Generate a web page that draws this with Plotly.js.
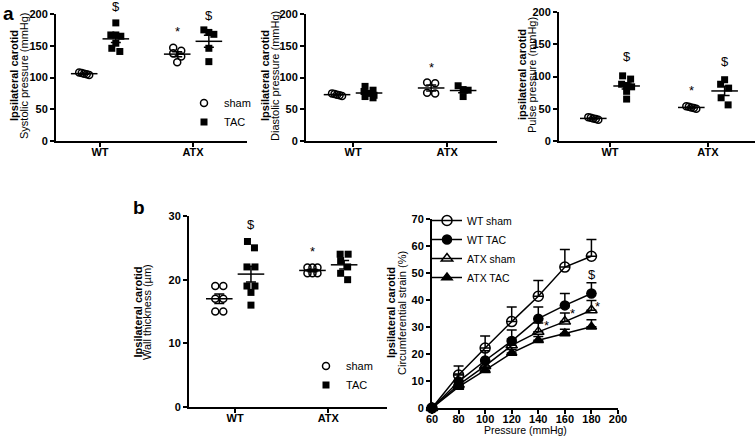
<!DOCTYPE html>
<html><head><meta charset="utf-8">
<script src="https://cdn.plot.ly/plotly-3.0.1.min.js"></script>
<style>body{margin:0;background:#fff;} #chart{width:756px;height:437px;}</style>
</head><body><div id="chart"></div>
<script>
// ---------- data ----------
const groups = ['WT', 'ATX'];
// panel a: systolic pressure (mmHg)
const systolicShamWT = [104, 106, 107, 108, 105];
const systolicShamATX = [147, 142, 138, 133, 124];
const systolicTacWT = [186, 167, 167, 165, 154, 146, 141];
const systolicTacATX = [175, 171, 168, 146, 125];
// diastolic pressure (mmHg)
const diastolicShamWT = [71, 73, 74, 72, 75];
const diastolicShamATX = [92, 91, 76, 75];
const diastolicTacWT = [86, 80, 78, 75, 72, 70, 68];
const diastolicTacATX = [87, 81, 80, 70];
// pulse pressure (mmHg)
const pulseShamWT = [33, 35, 37, 34, 36];
const pulseShamATX = [54, 52, 51, 53, 50];
const pulseTacWT = [101, 96, 88, 86, 84, 77, 65];
const pulseTacATX = [95, 88, 82, 67, 56];
// panel b: wall thickness (um)
const wallShamWT = [19, 19, 17, 17, 15, 15];
const wallShamATX = [21.9, 21.9, 21.9, 21.0, 21.0, 21.0];
const wallTacWT = [26, 25, 22, 22, 19, 19, 18, 16];
const wallTacATX = [24, 24, 23, 22, 21, 20];
// circumferential strain (%) vs pressure
const pressure = [60, 80, 100, 120, 140, 160, 180];
const strainWTsham = [0, 12.2, 22.2, 32, 41.4, 52.2, 56.2];
const strainWTshamErr = [0, 3.4, 4.5, 5.4, 5.8, 6.5, 6.2];
const strainWTtac = [0, 9.8, 17.6, 24.8, 33.1, 38.0, 42.4];
const strainWTtacErr = [0, 2.8, 3.6, 4.1, 4.3, 4.4, 4.0];
const strainATXsham = [0, 8.6, 15.6, 23.2, 28.2, 32.0, 36.2];
const strainATXshamErr = [0, 1.4, 1.8, 2.4, 3.3, 3.2, 3.6];
const strainATXtac = [0, 7.8, 14.0, 20.4, 25.1, 27.6, 30.1];
const strainATXtacErr = [0, 0.8, 1.0, 1.3, 1.4, 1.6, 2.6];
const strainNames = ['WT sham', 'WT TAC', 'ATX sham', 'ATX TAC'];

// ---------- helpers ----------
const FONT = 'Liberation Sans, Arial, sans-serif';
const W = 756, H = 437;
const GROUP_OFFSET = 0.17;
const DOLLAR = '&#36;';

function mean(a) { return a.reduce((s, v) => s + v, 0) / a.length; }
function sem(a) {
  const m = mean(a);
  const v = a.reduce((s, x) => s + (x - m) * (x - m), 0) / (a.length - 1);
  return Math.sqrt(v) / Math.sqrt(a.length);
}
// Prism-like scatter: near-equal values share a row (spread symmetrically, capped width);
// lone points that would touch the previous lone point are nudged sideways.
function spread(vals, pxX, pxY) {
  const rowTol = 4.5, pairGap = 8, maxSpan = 10, diam = 7.5;
  const order = vals.map((v, i) => i).sort((a, b) => vals[b] - vals[a]);
  const rows = [];
  order.forEach(i => {
    const r = rows[rows.length - 1];
    if (r && Math.abs(vals[r[0]] - vals[i]) * pxY <= rowTol) r.push(i); else rows.push([i]);
  });
  const offPx = new Array(vals.length).fill(0);
  rows.forEach((r, ri) => {
    if (r.length > 1) {
      const gap = Math.min(pairGap, maxSpan / (r.length - 1));
      r.forEach((idx, j) => { offPx[idx] = (j - (r.length - 1) / 2) * gap; });
    } else if (ri > 0 && rows[ri - 1].length === 1) {
      const p = rows[ri - 1][0];
      if (Math.abs(vals[p] - vals[r[0]]) * pxY < diam) {
        if (offPx[p] === 0) offPx[p] = -3.5;
        offPx[r[0]] = -offPx[p];
      }
    }
  });
  return offPx.map(o => o / pxX);
}

const layout = {
  width: W, height: H,
  margin: {l: 0, r: 0, t: 0, b: 0},
  paper_bgcolor: '#fff', plot_bgcolor: 'rgba(0,0,0,0)',
  font: {family: FONT, color: '#000', size: 11},
  showlegend: true,
  annotations: [], shapes: []
};
const traces = [];

function axisCommon(isX) {
  const a = {
    showline: true, linecolor: '#000', linewidth: 2,
    ticks: 'outside', ticklen: 4, tickwidth: 2, tickcolor: '#000',
    showgrid: false, zeroline: false, fixedrange: true,
    tickfont: {family: FONT, size: 11, color: '#000', weight: 'bold'}
  };
  if (isX) a.ticklabelstandoff = -4;
  return a;
}
function yTitle(boldLine, normalLine, xBold, xNormal, yCenterPx) {
  layout.annotations.push({xref: 'paper', yref: 'paper', x: xBold / W, y: 1 - yCenterPx / H,
    xanchor: 'center', yanchor: 'middle', textangle: -90, showarrow: false,
    text: '<b>' + boldLine + '</b>', font: {family: FONT, size: 11, color: '#000'}});
  layout.annotations.push({xref: 'paper', yref: 'paper', x: xNormal / W, y: 1 - yCenterPx / H,
    xanchor: 'center', yanchor: 'middle', textangle: -90, showarrow: false,
    text: normalLine, font: {family: FONT, size: 11, color: '#000'}});
}

function dotPanel(idx, xDom, yDom, xRange, yMax, yStep, sets, legendName, marks) {
  const xa = 'xaxis' + (idx === 1 ? '' : idx), ya = 'yaxis' + (idx === 1 ? '' : idx);
  const xr = 'x' + (idx === 1 ? '' : idx), yr = 'y' + (idx === 1 ? '' : idx);
  layout[xa] = Object.assign(axisCommon(true), {
    domain: xDom, range: xRange, anchor: yr,
    tickmode: 'array', tickvals: [1, 2], ticktext: groups
  });
  const ticks = [];
  for (let v = 0; v <= yMax + 1e-9; v += yStep) ticks.push(v);
  layout[ya] = Object.assign(axisCommon(false), {
    domain: yDom, range: [0, yMax], anchor: xr,
    tickmode: 'array', tickvals: ticks
  });
  const pxX = (xDom[1] - xDom[0]) * W / (xRange[1] - xRange[0]);
  const pxY = (yDom[1] - yDom[0]) * H / yMax;
  sets.forEach((s, si) => {
    const xs = [], ys = [];
    s.data.forEach((vals, gi) => {
      const center = gi + 1 + (si === 0 ? -GROUP_OFFSET : GROUP_OFFSET);
      const off = spread(vals, pxX, pxY);
      vals.forEach((v, k) => { xs.push(center + off[k]); ys.push(v); });
      traces.push({
        type: 'scatter', mode: 'markers', xaxis: xr, yaxis: yr, showlegend: false,
        x: [center], y: [mean(vals)], cliponaxis: false, hoverinfo: 'skip',
        marker: {symbol: 'line-ew', size: 19, color: '#000', line: {width: 1.5, color: '#000'}},
        error_y: {type: 'data', array: [sem(vals)], visible: true, color: '#000', thickness: 1.5, width: 5}
      });
    });
    traces.push({
      type: 'scatter', mode: 'markers', name: s.name, xaxis: xr, yaxis: yr,
      x: xs, y: ys, cliponaxis: false, legend: legendName || 'legend', showlegend: !!legendName,
      marker: s.name === 'sham'
        ? {symbol: 'circle-open', size: 7, color: '#000', line: {width: 1.5, color: '#000'}}
        : {symbol: 'square', size: 7, color: '#000', line: {width: 0}}
    });
  });
  marks.forEach(m => {
    layout.annotations.push({
      xref: xr, yref: yr, x: m[0], y: Math.min(m[1], yMax), yshift: m[1] > yMax ? (m[1] - yMax) * pxY : 0,
      text: m[2], showarrow: false, font: {family: FONT, size: 13, color: '#000'}
    });
  });
}

const yA = [1 - 141 / H, 1 - 14 / H];
dotPanel(1, [56 / W, 247 / W], yA, [0.527, 2.58], 200, 50,
  [{name: 'sham', data: [systolicShamWT, systolicShamATX]}, {name: 'TAC', data: [systolicTacWT, systolicTacATX]}],
  'legend',
  [[1 + GROUP_OFFSET, 212, DOLLAR], [2 + GROUP_OFFSET, 198, DOLLAR], [2 - GROUP_OFFSET, 172, '*']]);
yTitle('Ipsilateral carotid', 'Systolic pressure (mmHg)', 14, 24, 76);
dotPanel(2, [306 / W, 497 / W], yA, [0.5, 2.53], 200, 50,
  [{name: 'sham', data: [diastolicShamWT, diastolicShamATX]}, {name: 'TAC', data: [diastolicTacWT, diastolicTacATX]}],
  null,
  [[2 - GROUP_OFFSET, 115, '*']]);
yTitle('Ipsilateral carotid', 'Diastolic pressure (mmHg)', 265, 275, 76);
dotPanel(3, [559 / W, 755 / W], [1 - 141 / H, 1 - 12 / H], [0.48, 2.48], 200, 50,
  [{name: 'sham', data: [pulseShamWT, pulseShamATX]}, {name: 'TAC', data: [pulseTacWT, pulseTacATX]}],
  null,
  [[1 + GROUP_OFFSET, 131, DOLLAR], [2 + GROUP_OFFSET, 123, DOLLAR], [2 - GROUP_OFFSET, 78, '*']]);
yTitle('ipsilateral carotid', 'Pulse pressure (mmHg)', 522, 532, 75);
dotPanel(4, [189 / W, 387 / W], [1 - 407 / H, 1 - 216 / H], [0.505, 2.63], 30, 10,
  [{name: 'sham', data: [wallShamWT, wallShamATX]}, {name: 'TAC', data: [wallTacWT, wallTacATX]}],
  'legend2',
  [[1 + GROUP_OFFSET, 28.7, DOLLAR], [2 - GROUP_OFFSET, 24.4, '*']]);
yTitle('Ipsilateral carotid', 'Wall thickness (µm)', 137.5, 147, 312);

// ---------- strain panel ----------
layout.xaxis5 = Object.assign(axisCommon(true), {
  domain: [432 / W, 618 / W], range: [60, 200], anchor: 'y5',
  tickmode: 'linear', tick0: 60, dtick: 20
});
layout.yaxis5 = Object.assign(axisCommon(false), {
  domain: [1 - 408 / H, 1 - 219 / H], range: [0, 70], anchor: 'x5',
  tickmode: 'linear', tick0: 0, dtick: 10
});
yTitle('Ipsilateral carotid', 'Circumferential strain (%)', 391, 402, 313);
layout.annotations.push({xref: 'paper', yref: 'paper', x: 525 / W, y: 1 - 429.5 / H,
  xanchor: 'center', yanchor: 'middle', showarrow: false, text: 'Pressure (mmHg)',
  font: {family: FONT, size: 10.5, color: '#000'}});
const strainSets = [
  [strainWTsham, strainWTshamErr, 'circle-open'],
  [strainWTtac, strainWTtacErr, 'circle'],
  [strainATXsham, strainATXshamErr, 'triangle-up-open'],
  [strainATXtac, strainATXtacErr, 'triangle-up']
];
strainSets.forEach((s, i) => {
  traces.push({
    type: 'scatter', mode: 'lines+markers', name: strainNames[i], xaxis: 'x5', yaxis: 'y5',
    x: pressure, y: s[0], cliponaxis: false, legend: 'legend3',
    line: {color: '#000', width: 1.5},
    marker: {symbol: s[2], size: i % 2 ? 9 : 10, color: '#000', line: {width: 1.5, color: '#000'}},
    error_y: {type: 'data', symmetric: false, array: s[1], arrayminus: s[1].map(() => 0),
      visible: true, color: '#000', thickness: 1.5, width: 5}
  });
});
[[146, 30.5, '*'], [166, 35, '*'], [184.5, 37.5, '*'], [180.2, 49.5, DOLLAR]].forEach(m => {
  layout.annotations.push({xref: 'x5', yref: 'y5', x: m[0], y: m[1], text: m[2], showarrow: false,
    font: {family: FONT, size: 13, color: '#000'}});
});

// legends
layout.legend = {x: 184 / W, y: 1 - 88.5 / H, xanchor: 'left', yanchor: 'top',
  font: {family: FONT, size: 11, color: '#000'}, bgcolor: 'rgba(0,0,0,0)', itemwidth: 30, tracegroupgap: 0};
layout.legend2 = {x: 306 / W, y: 1 - 351.5 / H, xanchor: 'left', yanchor: 'top',
  font: {family: FONT, size: 11, color: '#000'}, bgcolor: 'rgba(0,0,0,0)', itemwidth: 30, tracegroupgap: 0};
layout.legend3 = {x: 427 / W, y: 1 - 206 / H, xanchor: 'left', yanchor: 'top',
  font: {family: FONT, size: 10.5, color: '#000'}, bgcolor: 'rgba(0,0,0,0)', itemwidth: 30, tracegroupgap: 0};

// panel letters
layout.annotations.push({xref: 'paper', yref: 'paper', x: 1 / W, y: 1 - 1 / H, xanchor: 'left', yanchor: 'top',
  text: '<b>a</b>', showarrow: false, font: {family: FONT, size: 19, color: '#000'}});
layout.annotations.push({xref: 'paper', yref: 'paper', x: 131 / W, y: 1 - 195 / H, xanchor: 'left', yanchor: 'top',
  text: '<b>b</b>', showarrow: false, font: {family: FONT, size: 19, color: '#000'}});

Plotly.newPlot('chart', traces, layout, {staticPlot: true, displayModeBar: false});
</script></body></html>
